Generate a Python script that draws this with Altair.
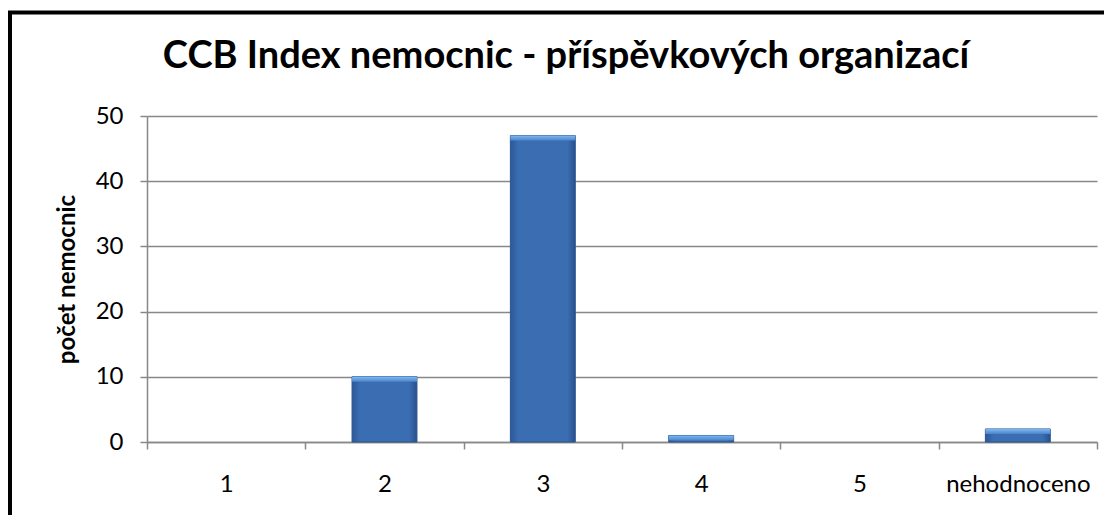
import altair as alt
import pandas as pd

categories = ["1", "2", "3", "4", "5", "nehodnoceno"]
values = [0, 10, 47, 1, 0, 2]

title_text = "CCB Index nemocnic - příspěvkových organizací"
y_title = "počet nemocnic"

df = pd.DataFrame({"kat": categories, "pocet": values})

W, H = 950, 326
FONT = "Lato"

x_scale = alt.Scale(domain=categories, paddingInner=0, paddingOuter=0)

x_enc = alt.X("kat:N", sort=categories, title=None, scale=x_scale,
              axis=alt.Axis(tickBand="extent", labelAngle=0, labelFont=FONT,
                            labelFontSize=24, labelColor="#000", labelPadding=23,
                            labelBaseline="top",
                            tickSize=7, tickColor="#888", tickWidth=1.5,
                            domainColor="#888", domainWidth=1.5, grid=False))
y_enc = alt.Y("pocet:Q", title=y_title,
              scale=alt.Scale(domain=[0, 50], nice=False),
              axis=alt.Axis(values=[0, 10, 20, 30, 40, 50], labelFont=FONT,
                            labelFontSize=24, labelColor="#000", labelPadding=17,
                            tickSize=7, tickColor="#888", tickWidth=1.5,
                            domainColor="#888", domainWidth=1.5,
                            gridColor="#888", gridWidth=1.5,
                            titleFont=FONT, titleFontSize=24, titleFontWeight="bold",
                            titleColor="#000", titleX=-80, titleY=H / 2,
                            titleAlign="center", titleBaseline="middle", titleAngle=-90))

base = alt.Chart(df).transform_filter("datum.pocet > 0")

body = base.mark_bar(
    width=alt.RelativeBandSize(0.41),
    stroke="#2b5690", strokeWidth=1,
    color=alt.Gradient(gradient="linear", x1=0, x2=1, y1=0, y2=0,
                       stops=[alt.GradientStop(offset=0, color="#2c5896"),
                              alt.GradientStop(offset=0.12, color="#3a6db2"),
                              alt.GradientStop(offset=0.88, color="#3a6db2"),
                              alt.GradientStop(offset=1, color="#28518c")]),
).encode(x=x_enc, y=y_enc, y2=alt.Y2(datum=0))

bevel = base.mark_bar(
    width=alt.RelativeBandSize(0.41), y2Offset=5,
    color=alt.Gradient(gradient="linear", x1=0, x2=0, y1=0, y2=1,
                       stops=[alt.GradientStop(offset=0, color="#80b8f2"),
                              alt.GradientStop(offset=1, color="#4a85cc")]),
).encode(x=alt.X("kat:N", sort=categories, scale=x_scale), y=alt.Y("pocet:Q"),
         y2=alt.Y2("pocet:Q"))

one = alt.Chart(df).transform_filter("datum.kat == '1'")

border = one.mark_rect(filled=False, stroke="#000", strokeWidth=4, clip=False).encode(
    x=alt.value(-137), x2=alt.value(W + 60), y=alt.value(-103.5), y2=alt.value(H + 200)
)

title = one.mark_text(text=title_text, font=FONT, fontSize=38, fontWeight="bold",
                      color="#000", align="center", baseline="alphabetic").encode(
    x=alt.value(419), y=alt.value(-48)
)

chart = alt.layer(body, bevel, border, title).properties(
    width=W, height=H,
    autosize=alt.AutoSizeParams(type="none"),
    padding={"left": 139, "top": 108, "right": 7, "bottom": 73},
).configure_view(stroke=None)

chart.save("out.html", embed_options={"renderer": "svg", "actions": False})
